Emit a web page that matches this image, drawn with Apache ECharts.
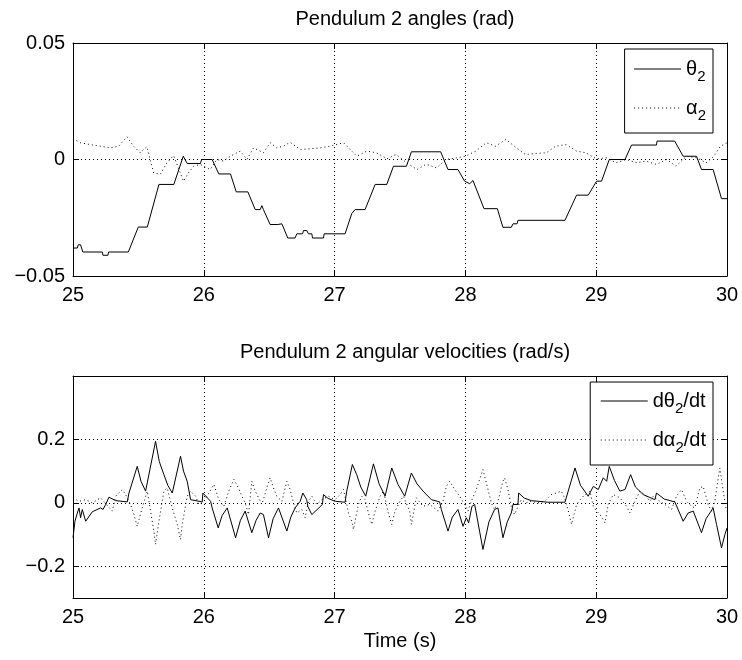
<!DOCTYPE html>
<html>
<head>
<meta charset="utf-8">
<script src="https://cdn.jsdelivr.net/npm/echarts@6/dist/echarts.min.js"></script>
<style>
  html, body { margin: 0; padding: 0; background: #fff; }
  #main { width: 742px; height: 660px; }
</style>
</head>
<body>
<div id="main"></div>
<script>
// pendulum 2 angle theta (rad)
const thetaT = [25.0, 25.033, 25.04, 25.058, 25.075, 25.224, 25.229, 25.267, 25.272, 25.423,
  25.499, 25.568, 25.657, 25.771, 25.843, 25.855, 25.873, 25.975, 25.983, 26.064,
  26.115, 26.204, 26.248, 26.337, 26.393, 26.431, 26.444, 26.456, 26.507, 26.566,
  26.597, 26.642, 26.698, 26.711, 26.755, 26.762, 26.787, 26.8, 26.826, 26.831,
  26.915, 26.92, 27.08, 27.131, 27.157, 27.233, 27.31, 27.399, 27.45, 27.549,
  27.587, 27.811, 27.867, 27.943, 27.994, 28.033, 28.058, 28.142, 28.244, 28.287,
  28.351, 28.364, 28.395, 28.402, 28.761, 28.85, 28.939, 29.003, 29.041, 29.1,
  29.22, 29.27, 29.461, 29.465, 29.6, 29.665, 29.767, 29.805, 29.894, 29.958, 30.0]
const thetaV = [-0.038, -0.038, -0.0366, -0.0366, -0.0397, -0.0397, -0.0411, -0.0411, -0.0397, -0.0397,
  -0.029, -0.029, -0.0107, -0.0107, 0.0014, 0.0014, -0.0017, -0.0017, 0, 0,
  -0.0062, -0.0062, -0.0139, -0.0139, -0.0215, -0.0215, -0.0198, -0.0215, -0.0279, -0.0279,
  -0.0276, -0.0337, -0.0337, -0.0319, -0.0319, -0.0305, -0.0305, -0.0319, -0.0319, -0.0337,
  -0.0337, -0.0319, -0.0319, -0.0232, -0.0215, -0.0215, -0.0107, -0.0107, -0.0029, -0.0029,
  0.0033, 0.0033, -0.0043, -0.0043, -0.0093, -0.0104, -0.009, -0.0211, -0.0211, -0.0291,
  -0.0291, -0.0276, -0.0276, -0.0261, -0.0261, -0.0153, -0.0153, -0.0093, -0.0093, 0,
  0, 0.0062, 0.0062, 0.0079, 0.0079, 0.0014, 0.0014, -0.0043, -0.0043, -0.0168, -0.0168]

// pendulum 2 angle alpha (rad)
const alphaT = [25.0, 25.056, 25.132, 25.209, 25.285, 25.349, 25.412, 25.463, 25.514, 25.565,
  25.616, 25.667, 25.718, 25.769, 25.82, 25.845, 25.883, 25.922, 25.973, 26.049,
  26.1, 26.151, 26.202, 26.279, 26.33, 26.38, 26.456, 26.507, 26.558, 26.609,
  26.66, 26.737, 26.813, 26.889, 26.966, 27.068, 27.119, 27.17, 27.246,
  27.32, 27.4, 27.47, 27.55, 27.63, 27.70, 27.78, 27.85, 27.93, 28.0,
  28.08, 28.16, 28.23, 28.31, 28.39, 28.46, 28.54, 28.62, 28.69, 28.77,
  28.85, 28.92, 29.0, 29.08, 29.15, 29.23, 29.31, 29.38, 29.46, 29.54,
  29.61, 29.69, 29.77, 29.84, 29.9, 29.95, 30.0]
const alphaV = [0.0089, 0.0072, 0.0064, 0.0057, 0.005, 0.0057, 0.0098, 0.0057, 0.0029, 0.0055,
  -0.0057, -0.0064, -0.0014, 0.0017, -0.0057, -0.0093, -0.0057, -0.0029, -0.0021, -0.0043,
  0, -0.0007, 0.0014, 0.0036, 0, 0.005, 0.0029, 0.0072, 0.005, 0.0057,
  0.0074, 0.0043, 0.0046, 0.005, 0.0057, 0.0072, 0.0043, 0.0014, 0.0036,
  0.0029, 0.0003, 0.0022, -0.0014, -0.0043, -0.002, -0.0036, 0, 0.0007, 0.0014,
  0.0036, 0.0072, 0.0057, 0.0086, 0.005, 0.0021, 0.0026, 0.0029, 0.0057, 0.0064,
  0.0036, 0.0029, 0.0003, 0.0007, -0.0014, 0, -0.0014, -0.0007, -0.0021, 0,
  -0.0029, 0.0014, 0.0007, -0.0014, 0.0014, 0.0057, 0.0072]

// angular velocity dtheta/dt (rad/s)
const dThetaT = [25.0, 25.015, 25.033, 25.046, 25.058, 25.071, 25.097, 25.148, 25.211, 25.229,
  25.25, 25.275, 25.326, 25.415, 25.428, 25.491, 25.52, 25.555, 25.631, 25.66,
  25.695, 25.725, 25.759, 25.771, 25.822, 25.845, 25.873, 25.899, 25.988, 25.993,
  26.052, 26.064, 26.11, 26.14, 26.179, 26.243, 26.28, 26.316, 26.367, 26.4,
  26.431, 26.456, 26.495, 26.53, 26.571, 26.584, 26.635, 26.665, 26.698, 26.737,
  26.757, 26.787, 26.795, 26.826, 26.907, 26.915, 26.95, 27.004, 27.08, 27.093,
  27.136, 27.169, 27.2, 27.238, 27.297, 27.34, 27.386, 27.437, 27.485, 27.536,
  27.587, 27.63, 27.676, 27.74, 27.803, 27.816, 27.867, 27.9, 27.943, 27.982,
  28.007, 28.025, 28.05, 28.071, 28.134, 28.18, 28.223, 28.249, 28.287, 28.32,
  28.351, 28.364, 28.402, 28.407, 28.45, 28.504, 28.631, 28.761, 28.838, 28.88,
  28.939, 28.978, 29.016, 29.054, 29.08, 29.1, 29.14, 29.181, 29.22, 29.263,
  29.3, 29.36, 29.449, 29.461, 29.52, 29.601, 29.614, 29.665, 29.703, 29.742,
  29.805, 29.84, 29.869, 29.894, 29.92, 29.958, 29.984, 30.0]
const dThetaV = [-0.110, -0.058, -0.032, -0.016, -0.047, -0.021, -0.058, -0.028, -0.016, -0.021,
  -0.005, 0.018, 0.007, 0.003, 0.031, 0.115, 0.068, 0.037, 0.194, 0.13,
  0.089, 0.055, 0.031, 0.037, 0.147, 0.1, 0.068, 0.010, 0.003, 0.031,
  0.005, -0.016, -0.079, -0.04, -0.016, -0.110, -0.055, -0.026, -0.094, -0.055,
  -0.032, -0.037, -0.110, -0.05, -0.016, -0.021, -0.089, -0.045, -0.016, 0.005,
  0.031, 0.010, -0.011, -0.037, -0.005, 0.026, 0.014, 0.005, 0.002, 0.037,
  0.121, 0.089, 0.05, 0.021, 0.123, 0.06, 0.021, 0.110, 0.058, 0.021,
  0.094, 0.06, 0.037, 0.010, 0.003, -0.021, -0.089, -0.045, -0.021, -0.074,
  -0.047, -0.063, -0.011, -0.005, -0.147, -0.06, -0.021, -0.016, -0.110, -0.06,
  -0.032, -0.005, -0.005, 0.031, 0.015, 0.007, 0.002, 0.002, 0.110, 0.055,
  0.021, 0.052, 0.042, 0.079, 0.068, 0.115, 0.07, 0.037, 0.042, 0.089,
  0.05, 0.026, 0.010, 0.031, 0.012, 0.003, 0.0, -0.058, -0.032, -0.026,
  -0.094, -0.05, -0.032, -0.016, -0.068, -0.142, -0.1, -0.079]

// angular velocity dalpha/dt (rad/s)
const dAlphaT = [25.0, 25.046, 25.097, 25.148, 25.211, 25.3, 25.326, 25.377, 25.402, 25.44,
  25.466, 25.491, 25.529, 25.568, 25.593, 25.618, 25.631, 25.657, 25.695, 25.72,
  25.759, 25.797, 25.822, 25.835, 25.873, 25.899, 25.937, 25.962, 26.0, 26.039,
  26.077, 26.115, 26.153, 26.191, 26.23,
  26.265, 26.291, 26.316, 26.342, 26.367, 26.393, 26.444, 26.482, 26.507, 26.533,
  26.558, 26.597, 26.635, 26.66, 26.686, 26.711, 26.749, 26.775, 26.8, 26.826,
  26.864, 26.902, 26.953, 27.004, 27.042, 27.068, 27.093, 27.106, 27.131, 27.144,
  27.182, 27.208, 27.233, 27.259, 27.284, 27.31, 27.348, 27.373, 27.411, 27.437,
  27.462, 27.5, 27.526,
  27.574, 27.587, 27.625, 27.676, 27.727, 27.791, 27.829, 27.854, 27.88, 27.918,
  27.956, 27.994, 28.02, 28.045, 28.083, 28.109, 28.134, 28.173, 28.198, 28.223,
  28.249, 28.287, 28.3, 28.325, 28.351, 28.376, 28.402, 28.427, 28.465, 28.504,
  28.554, 28.605, 28.656, 28.695, 28.733, 28.758,
  28.787, 28.812, 28.85, 28.901, 28.952, 28.978, 29.003, 29.029, 29.067, 29.092,
  29.13, 29.181, 29.232, 29.258, 29.296, 29.334, 29.372, 29.41, 29.436, 29.487,
  29.525, 29.576, 29.614, 29.652, 29.691, 29.729, 29.754, 29.792, 29.818, 29.856,
  29.882, 29.907, 29.933, 29.945, 29.971, 29.996]
const dAlphaV = [0.016, 0.005, 0.01, 0.0, 0.016, -0.026, 0.021, 0.042, 0.026, -0.005,
  -0.037, -0.074, -0.016, 0.037, -0.026, -0.089, -0.131, -0.058, 0.037, 0.047,
  -0.016, -0.068, -0.116, -0.068, 0.021, 0.037, 0.021, -0.005, 0.005, 0.031,
  0.058, 0.01, -0.011, 0.037, 0.074,
  0.047, 0.021, 0.0, -0.037, 0.068, 0.037, -0.005, 0.047, 0.079, 0.047,
  0.021, 0.005, 0.068, 0.042, 0.0, -0.032, -0.021, -0.047, 0.005, 0.021,
  -0.005, 0.01, 0.021, 0.01, 0.026, 0.042, -0.005, -0.032, -0.058, -0.084,
  -0.005, 0.021, 0.01, -0.032, -0.068, -0.026, 0.021, 0.037, -0.032, -0.068,
  -0.026, 0.005, 0.021,
  -0.026, -0.068, 0.016, -0.011, -0.005, -0.026, 0.005, 0.052, 0.068, 0.042,
  0.021, -0.005, -0.026, 0.005, 0.042, 0.074, 0.105, 0.042, 0.0, -0.021,
  0.005, 0.068, 0.079, 0.042, -0.011, -0.037, -0.011, 0.01, 0.0, 0.005,
  0.0, 0.005, 0.026, 0.031, 0.037, 0.016,
  -0.026, -0.068, -0.005, 0.021, 0.037, -0.011, -0.026, -0.037, -0.063, -0.005,
  0.026, 0.016, -0.011, -0.032, 0.005, 0.037, 0.026, 0.005, 0.021, 0.005,
  -0.005, -0.021, 0.021, 0.042, 0.005, -0.011, -0.016, 0.047, 0.052, -0.005,
  -0.026, 0.005, 0.079, 0.11, 0.037, -0.026]

// y tick labels
const angleTicks = [-0.05, 0, 0.05]
const velTicks = [-0.2, 0, 0.2]

const zip = (ts, vs) => ts.map((t, i) => [t, vs[i]])

const FONT = 'Liberation Sans'
const FS = 20
const fmt = (v) => {
  if (Math.abs(v) < 1e-9) return '0'
  return String(+v.toFixed(2)).replace('-', '\u2212')
}
const legendFmt = (name) => '{m|' + name.replace('2', '}{s|2}{m|') + '}'
const legendRich = {
  m: { fontSize: FS, fontFamily: FONT, color: '#000', lineHeight: 30 },
  s: { fontSize: 15, fontFamily: FONT, color: '#000', lineHeight: 12, verticalAlign: 'bottom' }
}

const dotted = { type: [1, 3], color: '#000', width: 1 }

function xAxes(gridIndex, showName) {
  const base = {
    type: 'value', gridIndex, min: 25, max: 30, interval: 1,
    axisLine: { show: true, onZero: false, lineStyle: { color: '#000', width: 1 } },
    axisTick: { show: true, inside: true, length: 6, lineStyle: { color: '#000' } }
  }
  return [
    Object.assign({}, base, {
      position: 'bottom',
      axisLabel: { color: '#000', fontSize: FS, fontFamily: FONT, margin: 9 },
      splitLine: { show: true, lineStyle: dotted },
      name: showName ? 'Time (s)' : '',
      nameLocation: 'middle',
      nameGap: 33,
      nameTextStyle: { color: '#000', fontSize: FS, fontFamily: FONT }
    }),
    Object.assign({}, base, {
      position: 'top',
      axisLabel: { show: false },
      splitLine: { show: false }
    })
  ]
}

function yAxes(gridIndex, min, max, ticks) {
  const base = {
    type: 'value', gridIndex, min, max,
    axisLine: { show: true, onZero: false, lineStyle: { color: '#000', width: 1 } },
    axisTick: { show: true, inside: true, length: 6, customValues: ticks, lineStyle: { color: '#000' } }
  }
  return [
    Object.assign({}, base, {
      position: 'left',
      axisLabel: { color: '#000', fontSize: FS, fontFamily: FONT, margin: 8, customValues: ticks, formatter: fmt },
      splitLine: { show: true, lineStyle: dotted }
    }),
    Object.assign({}, base, {
      position: 'right',
      axisLabel: { show: false },
      splitLine: { show: false }
    })
  ]
}

function lineSeries(name, data, xi, yi, dash) {
  return {
    name, type: 'line', data,
    xAxisIndex: xi, yAxisIndex: yi,
    symbol: 'none', animation: false,
    lineStyle: dash ? dotted : { color: '#000', width: 1 },
    itemStyle: { color: '#000' }
  }
}

const legendBase = {
  orient: 'vertical',
  backgroundColor: '#fff',
  borderColor: '#000',
  borderWidth: 1,
  borderRadius: 0,
  itemWidth: 47,
  itemHeight: 14,
  itemGap: 14,
  itemStyle: { opacity: 0 },
  lineStyle: { width: 1 },
  textStyle: { rich: legendRich },
  formatter: legendFmt,
  selectedMode: false
}

const chart = echarts.init(document.getElementById('main'), null, { renderer: 'canvas' })
chart.setOption({
  animation: false,
  backgroundColor: '#fff',
  title: [
    { text: 'Pendulum 2 angles (rad)', left: 400, top: 4, textAlign: 'center',
      textStyle: { fontSize: FS, fontWeight: 'normal', fontFamily: FONT, color: '#000' } },
    { text: 'Pendulum 2 angular velocities (rad/s)', left: 400, top: 337, textAlign: 'center',
      textStyle: { fontSize: FS, fontWeight: 'normal', fontFamily: FONT, color: '#000' } }
  ],
  grid: [
    { left: 73, right: 15, top: 43, height: 233 },
    { left: 73, right: 15, top: 376, height: 222 }
  ],
  xAxis: xAxes(0, false).concat(xAxes(1, true)),
  yAxis: yAxes(0, -0.05, 0.05, angleTicks).concat(yAxes(1, -0.3, 0.4, velTicks)),
  legend: [
    Object.assign({}, legendBase, {
      data: ['θ2', 'α2'], right: 29, top: 49, padding: [10, 7, 10, 9]
    }),
    Object.assign({}, legendBase, {
      data: ['dθ2/dt', 'dα2/dt'], right: 29, top: 382, padding: [9, 7, 10, 10]
    })
  ],
  series: [
    lineSeries('θ2', zip(thetaT, thetaV), 0, 0, false),
    lineSeries('α2', zip(alphaT, alphaV), 0, 0, true),
    lineSeries('dθ2/dt', zip(dThetaT, dThetaV), 2, 2, false),
    lineSeries('dα2/dt', zip(dAlphaT, dAlphaV), 2, 2, true)
  ]
})
</script>
</body>
</html>
